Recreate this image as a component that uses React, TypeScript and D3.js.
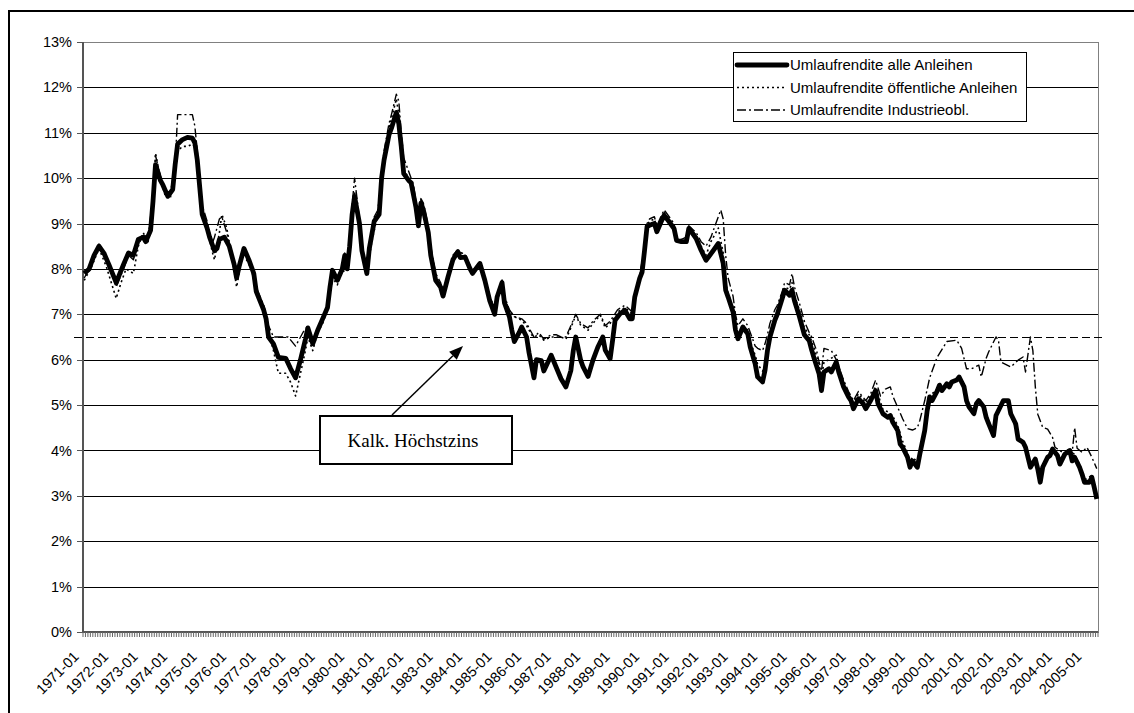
import React, { useEffect, useRef } from "react";
import * as d3 from "d3";

type Pt = [string, number];

// monthly categories 1971-01 .. 2005-05
const firstYear = 1971;
const monthCount = 413;
const months = d3.range(monthCount).map(
  (i) => `${firstYear + Math.floor(i / 12)}-${String((i % 12) + 1).padStart(2, "0")}`
);
const yTicks = [0, 1, 2, 3, 4, 5, 6, 7, 8, 9, 10, 11, 12, 13];
const hoechstzins = 6.5;
const seriesNames = [
  "Umlaufrendite alle Anleihen",
  "Umlaufrendite öffentliche Anleihen",
  "Umlaufrendite Industrieobl.",
];
const noteText = "Kalk. Höchstzins";

const alleAnleihen: Pt[] = [
  ["1971-01", 7.9], ["1971-03", 8.0], ["1971-05", 8.3], ["1971-07", 8.5], ["1971-09", 8.35], ["1971-11", 8.1],
  ["1972-02", 7.7], ["1972-05", 8.1], ["1972-07", 8.35], ["1972-09", 8.3], ["1972-11", 8.65],
  ["1973-01", 8.7], ["1973-02", 8.6], ["1973-04", 8.85], ["1973-05", 9.5], ["1973-06", 10.3], ["1973-08", 9.95],
  ["1973-09", 9.85], ["1973-11", 9.6],
  ["1974-01", 9.75], ["1974-02", 10.3], ["1974-03", 10.75], ["1974-05", 10.85], ["1974-07", 10.9], ["1974-09", 10.88],
  ["1974-10", 10.78], ["1974-11", 10.4], ["1974-12", 9.8],
  ["1975-01", 9.2], ["1975-03", 8.9], ["1975-04", 8.7], ["1975-06", 8.4], ["1975-07", 8.45], ["1975-08", 8.65],
  ["1975-10", 8.7], ["1975-12", 8.5],
  ["1976-02", 8.1], ["1976-03", 7.8], ["1976-04", 8.05], ["1976-06", 8.45], ["1976-08", 8.2], ["1976-10", 7.9], ["1976-11", 7.5],
  ["1977-02", 7.1], ["1977-03", 6.9], ["1977-04", 6.5], ["1977-06", 6.35], ["1977-08", 6.05], ["1977-11", 6.03],
  ["1978-01", 5.8], ["1978-03", 5.6], ["1978-05", 6.0], ["1978-07", 6.45], ["1978-08", 6.7], ["1978-10", 6.35], ["1978-12", 6.65],
  ["1979-02", 6.9], ["1979-04", 7.15], ["1979-05", 7.6], ["1979-06", 7.97], ["1979-08", 7.75], ["1979-10", 8.0],
  ["1979-11", 8.3], ["1979-12", 8.0],
  ["1980-01", 8.5], ["1980-02", 9.2], ["1980-03", 9.6], ["1980-05", 9.0], ["1980-06", 8.4], ["1980-08", 7.9],
  ["1980-09", 8.45], ["1980-11", 9.05],
  ["1981-01", 9.2], ["1981-02", 10.0], ["1981-03", 10.4], ["1981-05", 10.95], ["1981-06", 11.1], ["1981-08", 11.45],
  ["1981-09", 11.2], ["1981-10", 10.7], ["1981-11", 10.1],
  ["1982-01", 9.95], ["1982-02", 9.9], ["1982-04", 9.35], ["1982-05", 8.95], ["1982-06", 9.45], ["1982-07", 9.3],
  ["1982-09", 8.8], ["1982-10", 8.3], ["1982-12", 7.75],
  ["1983-02", 7.6], ["1983-03", 7.4], ["1983-05", 7.82], ["1983-07", 8.2], ["1983-09", 8.38], ["1983-10", 8.25], ["1983-12", 8.26],
  ["1984-02", 8.0], ["1984-03", 7.9], ["1984-05", 8.05], ["1984-06", 8.12], ["1984-08", 7.75], ["1984-10", 7.3], ["1984-12", 7.0],
  ["1985-01", 7.38], ["1985-03", 7.7], ["1985-04", 7.25], ["1985-06", 6.95], ["1985-07", 6.65], ["1985-08", 6.4],
  ["1985-10", 6.6], ["1985-11", 6.72],
  ["1986-01", 6.5], ["1986-02", 6.15], ["1986-04", 5.6], ["1986-05", 6.0], ["1986-07", 5.98], ["1986-08", 5.75], ["1986-11", 6.1],
  ["1987-01", 5.84], ["1987-03", 5.58], ["1987-05", 5.4], ["1987-07", 5.76], ["1987-08", 6.2], ["1987-09", 6.5],
  ["1987-11", 5.99], ["1987-12", 5.84],
  ["1988-02", 5.63], ["1988-04", 5.99], ["1988-06", 6.28], ["1988-08", 6.5], ["1988-09", 6.21], ["1988-11", 6.02], ["1988-12", 6.43],
  ["1989-01", 6.87], ["1989-03", 7.01], ["1989-05", 7.09], ["1989-07", 6.9], ["1989-08", 6.9], ["1989-09", 7.38],
  ["1989-11", 7.79], ["1989-12", 7.93],
  ["1990-01", 8.41], ["1990-02", 8.93], ["1990-03", 8.96], ["1990-05", 9.0], ["1990-06", 8.82], ["1990-08", 9.07],
  ["1990-09", 9.18], ["1990-11", 9.04],
  ["1991-01", 8.89], ["1991-02", 8.63], ["1991-04", 8.6], ["1991-06", 8.6], ["1991-07", 8.89], ["1991-08", 8.82],
  ["1991-10", 8.67], ["1991-12", 8.41],
  ["1992-02", 8.19], ["1992-03", 8.26], ["1992-05", 8.41], ["1992-07", 8.56], ["1992-09", 8.12], ["1992-10", 7.53], ["1992-11", 7.38],
  ["1993-01", 7.05], ["1993-02", 6.65], ["1993-03", 6.46], ["1993-05", 6.72], ["1993-07", 6.57], ["1993-08", 6.28],
  ["1993-10", 5.91], ["1993-11", 5.62],
  ["1994-01", 5.51], ["1994-02", 5.76], ["1994-03", 6.2], ["1994-04", 6.5], ["1994-06", 6.87], ["1994-07", 7.0],
  ["1994-09", 7.35], ["1994-10", 7.53], ["1994-12", 7.42],
  ["1995-01", 7.53], ["1995-02", 7.3], ["1995-04", 6.95], ["1995-06", 6.55], ["1995-08", 6.42], ["1995-09", 6.21],
  ["1995-10", 6.03], ["1995-12", 5.69],
  ["1996-01", 5.32], ["1996-02", 5.73], ["1996-04", 5.8], ["1996-05", 5.73], ["1996-07", 5.95], ["1996-08", 5.73],
  ["1996-10", 5.4], ["1996-12", 5.18],
  ["1997-01", 5.1], ["1997-02", 4.92], ["1997-04", 5.14], ["1997-06", 5.03], ["1997-07", 4.92], ["1997-09", 5.1],
  ["1997-11", 5.32], ["1997-12", 5.03],
  ["1998-02", 4.81], ["1998-04", 4.73], ["1998-05", 4.77], ["1998-06", 4.62], ["1998-08", 4.44], ["1998-09", 4.14],
  ["1998-10", 4.07], ["1998-12", 3.85],
  ["1999-01", 3.63], ["1999-02", 3.77], ["1999-04", 3.63], ["1999-05", 3.92], ["1999-07", 4.44], ["1999-08", 4.88],
  ["1999-09", 5.18], ["1999-10", 5.1], ["1999-12", 5.3],
  ["2000-01", 5.44], ["2000-02", 5.32], ["2000-04", 5.47], ["2000-05", 5.4], ["2000-06", 5.51], ["2000-08", 5.55],
  ["2000-09", 5.62], ["2000-11", 5.4], ["2000-12", 5.1],
  ["2001-01", 4.96], ["2001-03", 4.81], ["2001-04", 5.03], ["2001-05", 5.1], ["2001-07", 4.96], ["2001-08", 4.73],
  ["2001-09", 4.59], ["2001-11", 4.33], ["2001-12", 4.77],
  ["2002-01", 4.88], ["2002-03", 5.1], ["2002-05", 5.1], ["2002-06", 4.81], ["2002-08", 4.59], ["2002-09", 4.25],
  ["2002-11", 4.18], ["2002-12", 4.07],
  ["2003-01", 3.85], ["2003-02", 3.63], ["2003-04", 3.81], ["2003-05", 3.59], ["2003-06", 3.3], ["2003-07", 3.63],
  ["2003-09", 3.85], ["2003-10", 3.89], ["2003-11", 4.03],
  ["2004-01", 3.89], ["2004-02", 3.7], ["2004-04", 3.92], ["2004-06", 4.0], ["2004-07", 3.77], ["2004-08", 3.85],
  ["2004-10", 3.63], ["2004-11", 3.48], ["2004-12", 3.3],
  ["2005-02", 3.3], ["2005-03", 3.41], ["2005-04", 3.18], ["2005-05", 2.93],
];

const oeffentlicheAnleihen: Pt[] = [
  ["1971-01", 7.75], ["1971-04", 8.05], ["1971-07", 8.45], ["1971-10", 8.05],
  ["1972-02", 7.35], ["1972-04", 7.7], ["1972-06", 8.0], ["1972-09", 7.9], ["1972-11", 8.5],
  ["1973-01", 8.8], ["1973-03", 8.6], ["1973-05", 9.4], ["1973-06", 10.55], ["1973-08", 10.0], ["1973-10", 9.6], ["1973-12", 9.55],
  ["1974-02", 10.2], ["1974-03", 10.6], ["1974-05", 10.7], ["1974-07", 10.7], ["1974-09", 10.75], ["1974-10", 10.7],
  ["1974-11", 10.4], ["1974-12", 9.9],
  ["1975-01", 9.4], ["1975-03", 8.9], ["1975-05", 8.4], ["1975-06", 8.2], ["1975-08", 8.8], ["1975-09", 9.2], ["1975-11", 8.9],
  ["1976-01", 8.3], ["1976-03", 7.6], ["1976-05", 8.2], ["1976-07", 8.2], ["1976-09", 8.0], ["1976-11", 7.5],
  ["1977-02", 7.2], ["1977-04", 6.6], ["1977-06", 6.2], ["1977-08", 5.7], ["1977-11", 5.7],
  ["1978-01", 5.5], ["1978-03", 5.2], ["1978-05", 5.7], ["1978-07", 6.2], ["1978-08", 6.5], ["1978-10", 6.2], ["1978-12", 6.6],
  ["1979-02", 6.8], ["1979-04", 7.1], ["1979-06", 7.8], ["1979-08", 7.65], ["1979-10", 7.95], ["1979-12", 7.95],
  ["1980-01", 8.4], ["1980-03", 9.7], ["1980-05", 9.0], ["1980-06", 8.35], ["1980-08", 7.85], ["1980-10", 8.6], ["1980-12", 9.1],
  ["1981-02", 9.9], ["1981-03", 10.5], ["1981-05", 11.1], ["1981-06", 11.3], ["1981-08", 11.75], ["1981-09", 11.4],
  ["1981-10", 10.8], ["1981-11", 10.2],
  ["1982-01", 10.0], ["1982-03", 9.7], ["1982-05", 9.0], ["1982-06", 9.5], ["1982-07", 9.35], ["1982-09", 8.85],
  ["1982-10", 8.35], ["1982-12", 7.8],
  ["1983-02", 7.65], ["1983-03", 7.45], ["1983-05", 7.85], ["1983-07", 8.25], ["1983-09", 8.4], ["1983-12", 8.3],
  ["1984-03", 7.95], ["1984-06", 8.15], ["1984-08", 7.8], ["1984-10", 7.4], ["1984-12", 7.1],
  ["1985-01", 7.4], ["1985-03", 7.75], ["1985-04", 7.35], ["1985-06", 7.09], ["1985-08", 6.95], ["1985-11", 6.87],
  ["1986-01", 6.75], ["1986-03", 6.55], ["1986-04", 6.5], ["1986-06", 6.55], ["1986-08", 6.43], ["1986-11", 6.5],
  ["1987-01", 6.5], ["1987-03", 6.5], ["1987-05", 6.45], ["1987-07", 6.7], ["1987-09", 6.98], ["1987-11", 6.76],
  ["1988-02", 6.65], ["1988-04", 6.8], ["1988-07", 6.98], ["1988-09", 6.7], ["1988-11", 6.8],
  ["1989-02", 7.05], ["1989-05", 7.15], ["1989-08", 7.0], ["1989-09", 7.4], ["1989-11", 7.8],
  ["1990-01", 8.45], ["1990-02", 8.95], ["1990-03", 9.05], ["1990-05", 9.1], ["1990-06", 8.9], ["1990-08", 9.15],
  ["1990-09", 9.25], ["1990-11", 9.1],
  ["1991-01", 8.95], ["1991-02", 8.65], ["1991-04", 8.6], ["1991-06", 8.65], ["1991-07", 8.9], ["1991-08", 8.85],
  ["1991-10", 8.75], ["1991-12", 8.5],
  ["1992-02", 8.3], ["1992-04", 8.6], ["1992-06", 8.8], ["1992-07", 8.9], ["1992-09", 8.35], ["1992-10", 7.7], ["1992-11", 7.45],
  ["1993-01", 7.15], ["1993-02", 6.75], ["1993-03", 6.55], ["1993-05", 6.75], ["1993-07", 6.65], ["1993-08", 6.4],
  ["1993-10", 6.1], ["1993-11", 5.9],
  ["1994-01", 5.75], ["1994-02", 5.85], ["1994-03", 6.25], ["1994-04", 6.55], ["1994-06", 6.95], ["1994-07", 7.05],
  ["1994-09", 7.4], ["1994-10", 7.6], ["1994-12", 7.55],
  ["1995-01", 7.7], ["1995-02", 7.4], ["1995-04", 7.1], ["1995-06", 6.7], ["1995-08", 6.55], ["1995-10", 6.25], ["1995-12", 5.9],
  ["1996-01", 5.6], ["1996-02", 5.95], ["1996-04", 6.0], ["1996-07", 6.1], ["1996-08", 5.85], ["1996-10", 5.5], ["1996-12", 5.25],
  ["1997-02", 5.05], ["1997-04", 5.25], ["1997-07", 5.05], ["1997-09", 5.2], ["1997-11", 5.4],
  ["1998-02", 4.9], ["1998-04", 4.85], ["1998-06", 4.75], ["1998-08", 4.55], ["1998-10", 4.2], ["1998-12", 3.95],
  ["1999-01", 3.75], ["1999-02", 3.85], ["1999-04", 3.75], ["1999-05", 4.0], ["1999-07", 4.5], ["1999-09", 5.2], ["1999-12", 5.35],
  ["2000-02", 5.4], ["2000-05", 5.45], ["2000-08", 5.55], ["2000-09", 5.6], ["2000-11", 5.4],
  ["2001-01", 5.0], ["2001-03", 4.85], ["2001-05", 5.1], ["2001-08", 4.8], ["2001-11", 4.4],
  ["2002-01", 4.9], ["2002-04", 5.15], ["2002-06", 4.85], ["2002-09", 4.3], ["2002-12", 4.15],
  ["2003-02", 3.7], ["2003-04", 3.85], ["2003-06", 3.4], ["2003-07", 3.7], ["2003-10", 3.95], ["2003-11", 4.05],
  ["2004-02", 3.75], ["2004-04", 3.95], ["2004-06", 4.05], ["2004-08", 3.9], ["2004-10", 3.7], ["2004-12", 3.35],
  ["2005-03", 3.45], ["2005-05", 3.0],
];

const industrieobl: Pt[] = [
  ["1971-01", 7.8], ["1971-04", 8.1], ["1971-07", 8.55], ["1971-10", 8.25],
  ["1972-02", 7.6], ["1972-05", 8.0], ["1972-07", 8.3], ["1972-09", 8.2], ["1972-11", 8.6],
  ["1973-01", 8.75], ["1973-03", 8.7], ["1973-05", 9.6], ["1973-06", 10.5], ["1973-08", 10.05], ["1973-10", 9.7], ["1973-12", 9.65],
  ["1974-02", 10.3], ["1974-03", 11.4], ["1974-09", 11.4], ["1974-10", 11.15], ["1974-11", 10.6], ["1974-12", 9.9],
  ["1975-01", 9.4], ["1975-03", 9.05], ["1975-05", 8.55], ["1975-06", 8.7], ["1975-08", 9.1], ["1975-09", 9.15], ["1975-11", 8.8],
  ["1976-01", 8.3], ["1976-03", 7.85], ["1976-05", 8.35], ["1976-07", 8.3], ["1976-09", 8.0], ["1976-11", 7.6],
  ["1977-02", 7.2], ["1977-04", 6.75], ["1977-06", 6.5], ["1977-08", 6.5], ["1977-12", 6.5],
  ["1978-03", 6.3], ["1978-06", 6.6], ["1978-08", 6.75], ["1978-10", 6.45], ["1978-12", 6.7],
  ["1979-02", 6.95], ["1979-04", 7.2], ["1979-06", 8.0], ["1979-08", 7.8], ["1979-10", 8.05], ["1979-11", 8.35], ["1979-12", 8.05],
  ["1980-01", 8.6], ["1980-02", 9.4], ["1980-03", 10.0], ["1980-05", 9.1], ["1980-06", 8.5], ["1980-08", 7.95],
  ["1980-09", 8.5], ["1980-11", 9.15],
  ["1981-01", 9.35], ["1981-02", 10.1], ["1981-03", 10.6], ["1981-05", 11.2], ["1981-06", 11.4], ["1981-08", 11.85],
  ["1981-09", 11.7], ["1981-10", 11.0], ["1981-11", 10.45],
  ["1982-01", 10.15], ["1982-03", 9.85], ["1982-05", 9.1], ["1982-06", 9.55], ["1982-07", 9.45], ["1982-09", 8.95],
  ["1982-10", 8.5], ["1982-12", 7.9],
  ["1983-02", 7.7], ["1983-03", 7.5], ["1983-05", 7.9], ["1983-07", 8.3], ["1983-09", 8.42], ["1983-12", 8.3],
  ["1984-03", 7.95], ["1984-06", 8.15], ["1984-08", 7.8], ["1984-10", 7.4], ["1984-12", 7.1],
  ["1985-01", 7.45], ["1985-03", 7.75], ["1985-04", 7.4], ["1985-06", 7.1], ["1985-08", 6.95], ["1985-11", 6.9],
  ["1986-01", 6.8], ["1986-03", 6.6], ["1986-04", 6.5], ["1986-06", 6.6], ["1986-08", 6.45], ["1986-11", 6.55],
  ["1987-01", 6.55], ["1987-03", 6.5], ["1987-05", 6.5], ["1987-07", 6.75], ["1987-09", 7.0], ["1987-11", 6.8],
  ["1988-02", 6.7], ["1988-04", 6.85], ["1988-07", 7.0], ["1988-09", 6.75], ["1988-11", 6.85],
  ["1989-02", 7.1], ["1989-05", 7.2], ["1989-08", 7.05], ["1989-09", 7.45], ["1989-11", 7.85],
  ["1990-01", 8.5], ["1990-02", 9.0], ["1990-03", 9.1], ["1990-05", 9.15], ["1990-06", 8.95], ["1990-08", 9.2],
  ["1990-09", 9.3], ["1990-11", 9.15],
  ["1991-01", 9.0], ["1991-02", 8.7], ["1991-04", 8.65], ["1991-06", 8.7], ["1991-07", 8.95], ["1991-08", 8.9],
  ["1991-10", 8.8], ["1991-12", 8.6],
  ["1992-02", 8.5], ["1992-04", 8.7], ["1992-06", 9.0], ["1992-08", 9.3], ["1992-09", 9.1], ["1992-10", 8.3], ["1992-11", 7.8],
  ["1993-01", 7.4], ["1993-02", 7.0], ["1993-03", 6.75], ["1993-05", 6.9], ["1993-07", 6.75], ["1993-08", 6.6],
  ["1993-10", 6.3], ["1993-11", 6.25],
  ["1994-01", 6.2], ["1994-02", 6.35], ["1994-03", 6.55], ["1994-04", 6.8], ["1994-06", 7.1], ["1994-07", 7.2],
  ["1994-09", 7.5], ["1994-10", 7.7], ["1994-12", 7.65],
  ["1995-01", 7.9], ["1995-02", 7.6], ["1995-04", 7.25], ["1995-06", 6.85], ["1995-08", 6.6], ["1995-09", 6.5],
  ["1995-11", 6.2], ["1995-12", 5.95],
  ["1996-01", 5.75], ["1996-02", 6.25], ["1996-05", 6.2], ["1996-07", 6.0], ["1996-08", 5.85], ["1996-10", 5.55], ["1996-12", 5.3],
  ["1997-02", 5.1], ["1997-04", 5.3], ["1997-07", 5.1], ["1997-09", 5.25], ["1997-11", 5.55],
  ["1998-01", 5.2], ["1998-03", 5.35], ["1998-05", 5.4], ["1998-06", 5.2], ["1998-08", 4.95], ["1998-10", 4.7], ["1998-12", 4.48],
  ["1999-02", 4.45], ["1999-04", 4.5], ["1999-05", 4.66], ["1999-07", 5.1], ["1999-09", 5.6], ["1999-10", 5.75], ["1999-12", 6.05],
  ["2000-04", 6.4], ["2000-08", 6.43], ["2000-10", 6.25], ["2000-12", 5.8],
  ["2001-02", 5.8], ["2001-05", 5.88], ["2001-06", 5.62], ["2001-08", 6.03], ["2001-09", 6.17], ["2001-12", 6.5],
  ["2002-01", 6.43], ["2002-02", 5.95], ["2002-06", 5.84], ["2002-09", 5.99], ["2002-11", 6.06], ["2002-12", 5.73],
  ["2003-02", 6.5], ["2003-03", 6.2], ["2003-04", 5.4], ["2003-05", 4.8], ["2003-07", 4.51], ["2003-09", 4.47],
  ["2003-11", 4.29], ["2003-12", 4.07],
  ["2004-03", 3.96], ["2004-06", 3.92], ["2004-07", 3.95], ["2004-08", 4.5], ["2004-09", 4.05], ["2004-11", 3.96],
  ["2005-01", 4.07], ["2005-03", 3.85], ["2005-05", 3.6],
];

const W = 1134;
const H = 713;
const sans = "'Liberation Sans', Arial, sans-serif";
const serif = "'Liberation Serif', 'Times New Roman', serif";

export default function App() {
  const ref = useRef<SVGSVGElement>(null);

  useEffect(() => {
    if (!ref.current) return;
    const svg = d3.select(ref.current);
    svg.selectAll("*").remove();

    const plot = { left: 83, right: 1098, top: 42, bottom: 632 };

    const x = d3.scaleBand<string>().domain(months).range([plot.left, plot.right]).padding(0);
    const bw = x.bandwidth();
    const xc = (m: string) => (x(m) as number) + bw / 2;
    const y = d3.scaleLinear().domain([0, 13]).range([plot.bottom, plot.top]);

    // outer chart frame
    svg.append("rect")
      .attr("x", 9).attr("y", 11)
      .attr("width", W + 20).attr("height", H + 20)
      .attr("fill", "white")
      .attr("stroke", "#000").attr("stroke-width", 2);

    // gridlines
    svg.append("g")
      .attr("shape-rendering", "crispEdges")
      .selectAll("line")
      .data(yTicks.filter((t) => t > 0 && t < 13))
      .enter()
      .append("line")
      .attr("x1", plot.left).attr("x2", plot.right)
      .attr("y1", (d) => Math.round(y(d)) + 0.5).attr("y2", (d) => Math.round(y(d)) + 0.5)
      .attr("stroke", "#000").attr("stroke-width", 1);

    // plot area border
    svg.append("rect")
      .attr("x", plot.left + 0.5).attr("y", plot.top + 0.5)
      .attr("width", plot.right - plot.left).attr("height", plot.bottom - plot.top)
      .attr("fill", "none").attr("stroke", "#808080").attr("stroke-width", 1);

    // y axis
    const yAxis = svg.append("g");
    yAxis.append("line")
      .attr("x1", plot.left).attr("x2", plot.left)
      .attr("y1", plot.top).attr("y2", plot.bottom)
      .attr("stroke", "#555").attr("stroke-width", 2);
    yAxis.selectAll(".tick")
      .data(yTicks)
      .enter()
      .append("line")
      .attr("x1", plot.left - 6).attr("x2", plot.left)
      .attr("y1", (d) => Math.round(y(d)) + 0.5).attr("y2", (d) => Math.round(y(d)) + 0.5)
      .attr("stroke", "#555").attr("stroke-width", 1);
    yAxis.selectAll("text")
      .data(yTicks)
      .enter()
      .append("text")
      .attr("x", plot.left - 11)
      .attr("y", (d) => y(d))
      .attr("dy", "0.35em")
      .attr("text-anchor", "end")
      .style("font-family", sans)
      .style("font-size", "14.5px")
      .attr("fill", "#000")
      .text((d) => `${d}%`);

    // x axis with monthly tick marks
    const xAxis = svg.append("g");
    xAxis.append("line")
      .attr("x1", plot.left).attr("x2", plot.right)
      .attr("y1", plot.bottom).attr("y2", plot.bottom)
      .attr("stroke", "#555").attr("stroke-width", 2);
    xAxis.selectAll(".tick")
      .data(months.concat(["end"]))
      .enter()
      .append("line")
      .attr("x1", (d, i) => (i < months.length ? (x(d) as number) : plot.right))
      .attr("x2", (d, i) => (i < months.length ? (x(d) as number) : plot.right))
      .attr("y1", plot.bottom).attr("y2", plot.bottom + 5)
      .attr("stroke", "#666").attr("stroke-width", 1);
    xAxis.selectAll("text")
      .data(months.filter((m) => m.endsWith("-01")))
      .enter()
      .append("text")
      .attr("transform", (d) => `translate(${xc(d) - 8},${plot.bottom + 22}) rotate(-45)`)
      .attr("dy", "0.35em")
      .attr("text-anchor", "end")
      .style("font-family", sans)
      .style("font-size", "14.5px")
      .attr("fill", "#000")
      .text((d) => d);

    // Höchstzins reference line
    svg.append("line")
      .attr("shape-rendering", "crispEdges")
      .attr("x1", 74).attr("x2", 1103)
      .attr("y1", Math.round(y(hoechstzins)) + 0.5).attr("y2", Math.round(y(hoechstzins)) + 0.5)
      .attr("stroke", "#000").attr("stroke-width", 1)
      .attr("stroke-dasharray", "8,4");

    const line = d3.line<Pt>()
      .x((d) => xc(d[0]))
      .y((d) => y(d[1]));

    const styles = [
      { data: alleAnleihen, width: 4.8, dash: null as string | null },
      { data: oeffentlicheAnleihen, width: 1.6, dash: "2,3" },
      { data: industrieobl, width: 1.4, dash: "9,3,2,3" },
    ];

    styles.slice().reverse().forEach((s) => {
      svg.append("path")
        .datum(s.data)
        .attr("fill", "none")
        .attr("stroke", "#000")
        .attr("stroke-width", s.width)
        .attr("stroke-linejoin", "round")
        .attr("stroke-dasharray", s.dash)
        .attr("d", line);
    });

    // legend
    const lg = svg.append("g").attr("transform", "translate(733,52)");
    lg.append("rect")
      .attr("x", 0.5).attr("y", 0.5)
      .attr("width", 293).attr("height", 69)
      .attr("fill", "white").attr("stroke", "#000").attr("stroke-width", 1);
    seriesNames.forEach((name, i) => {
      const ly = 13 + i * 22.5;
      lg.append("line")
        .attr("x1", 4).attr("x2", 54)
        .attr("y1", ly).attr("y2", ly)
        .attr("stroke", "#000")
        .attr("stroke-width", styles[i].width)
        .attr("stroke-linecap", i === 0 ? "round" : "butt")
        .attr("stroke-dasharray", styles[i].dash);
      lg.append("text")
        .attr("x", 57).attr("y", ly)
        .attr("dy", "0.35em")
        .style("font-family", sans)
        .style("font-size", "15px")
        .attr("fill", "#000")
        .text(name);
    });

    // annotation box with arrow
    const note = svg.append("g");
    note.append("rect")
      .attr("x", 320).attr("y", 416)
      .attr("width", 192).attr("height", 48)
      .attr("fill", "white").attr("stroke", "#000").attr("stroke-width", 2);
    note.append("text")
      .attr("x", 413).attr("y", 440)
      .attr("dy", "0.35em")
      .attr("text-anchor", "middle")
      .style("font-family", serif)
      .style("font-size", "19px")
      .attr("fill", "#000")
      .text(noteText);

    const ax0 = 392, ay0 = 415;
    const ax1 = 463, ay1 = y(hoechstzins) + 9;
    const ang = Math.atan2(ay1 - ay0, ax1 - ax0);
    const headLen = 14, headW = 5.5;
    const bx = ax1 - headLen * Math.cos(ang);
    const by = ay1 - headLen * Math.sin(ang);
    note.append("line")
      .attr("x1", ax0).attr("y1", ay0)
      .attr("x2", bx).attr("y2", by)
      .attr("stroke", "#000").attr("stroke-width", 1.5);
    note.append("path")
      .attr("d", d3.line()([
        [ax1, ay1],
        [bx + headW * Math.sin(ang), by - headW * Math.cos(ang)],
        [bx - headW * Math.sin(ang), by + headW * Math.cos(ang)],
      ]) + "Z")
      .attr("fill", "#000");
  }, []);

  return (
    <svg
      ref={ref}
      width={W}
      height={H}
      style={{ position: "absolute", left: 0, top: 0, background: "white" }}
    />
  );
}
